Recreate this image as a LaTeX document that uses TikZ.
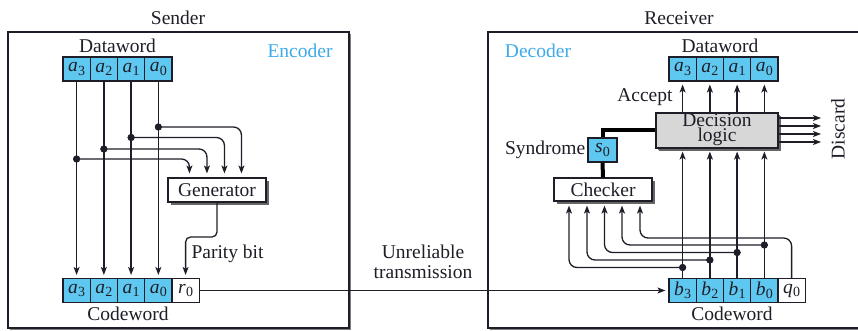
\documentclass[tikz,border=0pt]{standalone}
\usepackage{fontspec}
\setmainfont{Liberation Serif}
\usetikzlibrary{arrows.meta,calc,shadows}
\definecolor{cellblue}{RGB}{95,200,240}
\definecolor{labelblue}{RGB}{60,170,235}
\definecolor{ink}{RGB}{30,30,40}
\definecolor{logicgray}{RGB}{215,215,215}
% italic letter with an upright subscript digit
\newcommand\bitlbl[2]{\textit{#1}\kern0.3pt\raisebox{-0.35ex}{\fontsize{14}{14}\selectfont #2}}

\begin{document}
\begin{tikzpicture}[x=1pt,y=-1pt,
  font=\fontsize{19.5}{21}\selectfont, text=ink,
  wire/.style={draw=ink, line width=1.3pt},
  arr/.style={wire, -{Stealth[length=8pt,width=6pt,inset=2pt]}, shorten >=3pt},
  roundwire/.style={rounded corners=8pt},
  cell/.style={draw=ink, line width=1.1pt, fill=cellblue, minimum width=27.25pt,
    minimum height=24pt, inner sep=0pt},
  pcell/.style={cell, fill=white},
  unit/.style={draw=ink, line width=1.1pt, fill=white, inner sep=0pt,
    drop shadow={shadow xshift=3pt, shadow yshift=-3pt, fill=black!60, opacity=1}},
  dot/.style={circle, fill=ink, inner sep=0pt, minimum size=7pt},
  bus/.style={draw=black, line width=4pt, line join=miter},
  frame/.style={draw=ink, line width=1.1pt, fill=white},
  frameshadow/.style={fill=black!50},
  tag/.style={text=labelblue}]

\useasboundingbox (0,0) rectangle (858,331);

% ---------- frames ----------
\fill[frameshadow] (10,34) rectangle (351,330);
\draw[frame] (8,32) rectangle (349,328);
\fill[frameshadow] (490,34) rectangle (872,330);
\draw[frame] (488,32) rectangle (870,328);

\node (snd) at (178,18) {Sender};
\node (rcv) at (679,18) {Receiver};
\node[tag] (enc) at (300,51) {Encoder};
\node[tag] (dec) at (538,51) {Decoder};

% ---------- encoder ----------
\node (edw) at (117.5,46) {Dataword};
\node[cell] (ea3) at (76.6,69)  {\bitlbl a3};
\node[cell] (ea2) at (103.85,69) {\bitlbl a2};
\node[cell] (ea1) at (131.1,69) {\bitlbl a1};
\node[cell] (ea0) at (158.35,69) {\bitlbl a0};

\node[cell] (ec3) at (76.6,290.5)  {\bitlbl a3};
\node[cell] (ec2) at (103.85,290.5) {\bitlbl a2};
\node[cell] (ec1) at (131.1,290.5) {\bitlbl a1};
\node[cell] (ec0) at (158.35,290.5) {\bitlbl a0};
\node[pcell] (er) at (185.6,290.5) {\bitlbl r0};
\node (ecw) at (128,314) {Codeword};

\node[unit, minimum width=98pt, minimum height=24pt] (gen) at (217,190) {Generator};

\foreach \i in {3,2,1,0}
  \draw[arr] (ea\i.south) -- (ec\i.north);

\node[dot] (ed3) at (ea3 |- 0,159) {};
\node[dot] (ed2) at (ea2 |- 0,149) {};
\node[dot] (ed1) at (ea1 |- 0,137.5) {};
\node[dot] (ed0) at (ea0 |- 0,127) {};

\coordinate (g3) at ($(gen.north west)+(22,-1)$);
\coordinate (g2) at ($(gen.north west)+(39.5,-1)$);
\coordinate (g1) at ($(gen.north west)+(57,-1)$);
\coordinate (g0) at ($(gen.north west)+(74,-1)$);
\foreach \i in {3,2,1,0}
  \draw[arr, roundwire] (ed\i.center) -| (g\i);

\coordinate (pturn) at (gen.south |- 0,237);
\draw[arr, rounded corners=5pt] (gen.south) -- (pturn) -| (er.north);
\node[anchor=west] (pb) at (188,254) {Parity bit};

% ---------- channel ----------
\node[align=center, font=\fontsize{19.5}{20}\selectfont] (chan) at (423,262)
  {Unreliable\\transmission};

% ---------- decoder ----------
\node (rdw) at (720,46) {Dataword};
\node[cell] (ra3) at (682.6,69)  {\bitlbl a3};
\node[cell] (ra2) at (709.85,69) {\bitlbl a2};
\node[cell] (ra1) at (737.1,69)  {\bitlbl a1};
\node[cell] (ra0) at (764.35,69) {\bitlbl a0};

\node[cell] (rb3) at (682.6,290.5)  {\bitlbl b3};
\node[cell] (rb2) at (709.85,290.5) {\bitlbl b2};
\node[cell] (rb1) at (737.1,290.5)  {\bitlbl b1};
\node[cell] (rb0) at (764.35,290.5) {\bitlbl b0};
\node[pcell] (rq) at (791.6,290.5) {\bitlbl q0};
\node (rcw) at (732,314) {Codeword};

\draw[arr] (er.east) -- (rb3.west);

\node[unit, fill=logicgray, minimum width=122pt, minimum height=35pt,
  drop shadow={shadow xshift=2pt, shadow yshift=-2pt, fill=black!60, opacity=1}]
  (dl) at (717,130.5) {};
\node[align=center, font=\fontsize{19.5}{15.5}\selectfont, inner sep=0pt]
  (dltext) at ($(dl.center)+(0,-1)$) {Decision\\logic};

\node[unit, minimum width=98pt, minimum height=23pt] (chk) at (603,189.5) {Checker};
\node[cell, minimum width=29pt] (s0) at (602.5,150) {\bitlbl s0};
\node[anchor=east, inner sep=2pt] (syn) at (s0.west) {Syndrome};
\node[anchor=east] (acc) at (676,97) {Accept};

\draw[bus] (dl.west) -| (s0.north);
\draw[bus] (s0.south) -- (chk.north);

\foreach \i in {3,2,1,0} {
  \draw[arr] (rb\i.north) -- (rb\i.north |- dl.south);
  \draw[arr] (ra\i.south |- dl.north) -- (ra\i.south);
}

\coordinate (k1) at (821,118);
\coordinate (k2) at (821,126);
\coordinate (k3) at (821,134);
\coordinate (k4) at (821,142);
\foreach \k in {k1,k2,k3,k4}
  \draw[arr, shorten >=0pt] (dl.east |- \k) -- (\k);
\node[rotate=90] (dis) at (838,129) {Discard};

\coordinate (c3) at ($(chk.south)+(-34,1)$);
\coordinate (c2) at ($(chk.south)+(-16,1)$);
\coordinate (c1) at ($(chk.south)+(1.5,1)$);
\coordinate (c0) at ($(chk.south)+(19,1)$);
\coordinate (cq) at ($(chk.south)+(37,1)$);

\node[dot] (rd3) at (rb3 |- 0,267.5) {};
\node[dot] (rd2) at (rb2 |- 0,260) {};
\node[dot] (rd1) at (rb1 |- 0,252.5) {};
\node[dot] (rd0) at (rb0 |- 0,245) {};

\coordinate (qturn) at (rq.north |- 0,238);
\draw[arr, roundwire] (rq.north) -- (qturn) -| (cq);
\foreach \i in {3,2,1,0}
  \draw[arr, roundwire] (rd\i.center) -| (c\i);

% junction dots on top of the wires
\foreach \i in {3,2,1,0} {
  \fill[ink] (rd\i) circle (3.5pt);
  \fill[ink] (ed\i) circle (3.5pt);
}
\end{tikzpicture}
\end{document}
